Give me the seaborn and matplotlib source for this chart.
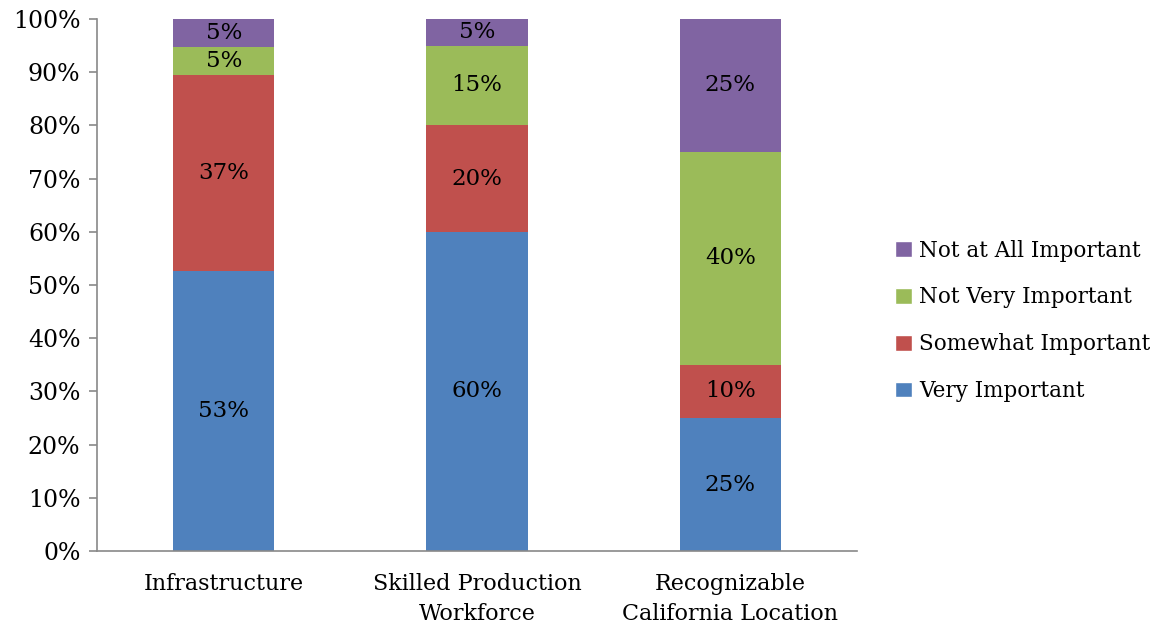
import pandas as pd
import seaborn as sns
import matplotlib.pyplot as plt
from matplotlib.patches import Patch

categories = ["Infrastructure", "Skilled Production\nWorkforce", "Recognizable\nCalifornia Location"]
series = ["Very Important", "Somewhat Important", "Not Very Important", "Not at All Important"]
very = [52.6, 60, 25]
somewhat = [36.8, 20, 10]
not_very = [5.3, 15, 40]
not_at_all = [5.3, 5, 25]
colors = ["#4F81BD", "#C0504D", "#9BBB59", "#8064A2"]

sns.set_style("white")
plt.rcParams['font.family'] = ['DejaVu Serif']

df = pd.DataFrame({"cat": categories, series[0]: very, series[1]: somewhat,
                   series[2]: not_very, series[3]: not_at_all})
cum = df[series].cumsum(axis=1)
cum["cat"] = df["cat"]

fig = plt.figure(figsize=(11.65, 6.29), dpi=100)
ax = fig.add_axes([0.0833, 0.124, 0.6523, 0.8458])

# draw tallest stack first so shorter ones sit on top
for s, c in reversed(list(zip(series, colors))):
    sns.barplot(data=cum, x="cat", y=s, color=c, width=0.4, saturation=1, linewidth=0, ax=ax)

for i, cat in enumerate(categories):
    bottom = 0
    for s in series:
        v = df.loc[i, s]
        ax.text(i, bottom + v / 2, f"{round(v)}%", ha="center", va="center", fontsize=16.5, color="black")
        bottom += v

ax.set_xlim(-0.5, 2.5)
ax.set_ylim(0, 100)
ax.set_yticks(range(0, 101, 10))
ax.set_yticklabels([f"{t}%" for t in range(0, 101, 10)], fontsize=17, color="black")
ax.set_xticks(range(3))
ax.set_xticklabels(categories, fontsize=16, color="black", linespacing=1.45)
ax.set_xticks([-0.5, 0.5, 1.5, 2.5], minor=True)
ax.tick_params(axis="x", which="major", length=0, pad=16)
ax.tick_params(axis="x", which="minor", length=7, color="#898989", width=1.2, direction="out")
ax.tick_params(axis="y", length=6, color="#898989", width=1.2, direction="out", pad=6, left=True)
ax.set_xlabel("")
ax.set_ylabel("")
for side in ["top", "right"]:
    ax.spines[side].set_visible(False)
for side in ["left", "bottom"]:
    ax.spines[side].set_color("#898989")
    ax.spines[side].set_linewidth(1.2)

handles = [Patch(facecolor=c, label=s) for s, c in zip(series, colors)][::-1]
leg = fig.legend(handles=handles, loc="center left", bbox_to_anchor=(0.752, 0.49), frameon=False,
                 fontsize=15.5, handlelength=0.75, handleheight=0.75, handletextpad=0.35, labelspacing=1.15)
for t in leg.get_texts():
    t.set_color("black")

fig.savefig("out.png", dpi=100)
